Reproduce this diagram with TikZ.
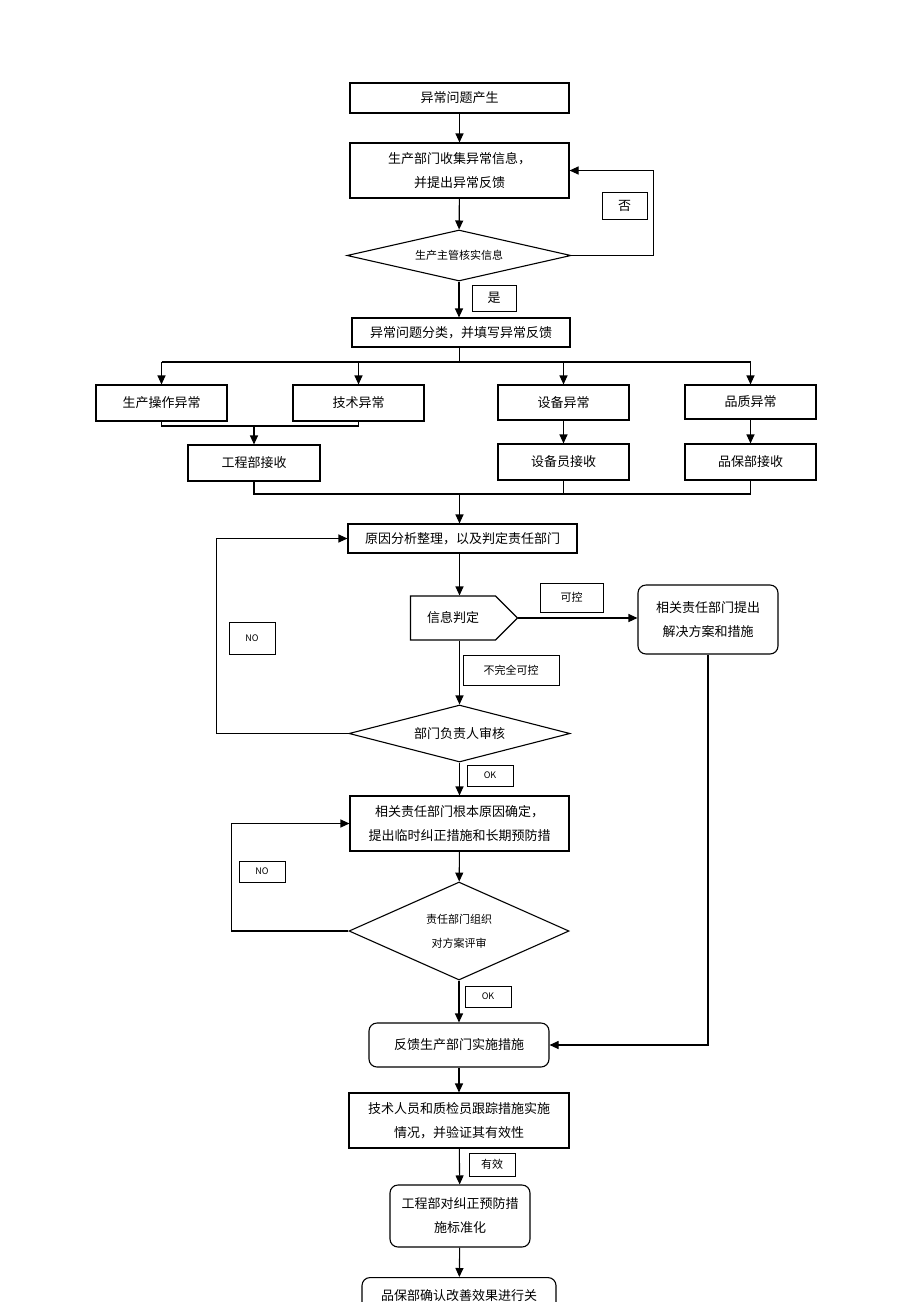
\documentclass[tikz,border=0pt]{standalone}
\usepackage{fontspec}
\setmainfont{Noto Sans CJK SC}
\usetikzlibrary{arrows.meta}
\usetikzlibrary{shapes.geometric}
\usetikzlibrary{shapes.symbols}

\begin{document}
\begin{tikzpicture}[x=1pt,y=-1pt,line width=1.1pt,
	box/.style={draw, rectangle, inner sep=2pt, align=center,
		font=\fontsize{13}{24}\selectfont},
	rbox/.style={box, rounded corners=8pt},
	decision/.style={draw, diamond, inner sep=0pt, align=center,
		font=\fontsize{11}{24}\selectfont},
	tag/.style={draw, line width=0.8pt, rectangle, inner sep=1pt,
		font=\fontsize{11}{13}\selectfont},
	arr/.style={-{Triangle[length=9pt,width=8pt]}}]
	
	\useasboundingbox (0,0) rectangle (920,1302);
	
	% main column
	\node[box, minimum width=219, minimum height=30] (start) at (459.5,98) {异常问题产生};
	\node[box, minimum width=219, minimum height=55] (collect) at (459.5,170.5) {生产部门收集异常信息，\\并提出异常反馈};
	\node[decision, aspect=4.4, minimum width=224, minimum height=51] (check) at (459,255.5) {生产主管核实信息};
	\node[box, minimum width=218, minimum height=29] (cls) at (461,332.5) {异常问题分类，并填写异常反馈};
	
	% the four kinds
	\node[box, minimum width=131, minimum height=36] (op) at (161.5,403) {生产操作异常};
	\node[box, minimum width=131, minimum height=36] (tech) at (358.5,403) {技术异常};
	\node[box, minimum width=131, minimum height=35] (eq) at (563.5,402.5) {设备异常};
	\node[box, minimum width=131, minimum height=34] (qa) at (750.5,402) {品质异常};
	\node[box, minimum width=132, minimum height=36] (eng) at (254,463) {工程部接收};
	\node[box, minimum width=131, minimum height=36] (eqr) at (563.5,462) {设备员接收};
	\node[box, minimum width=131, minimum height=36] (qar) at (750.5,462) {品保部接收};
	
	\node[box, minimum width=229, minimum height=29] (cause) at (462.5,538.5) {原因分析整理，以及判定责任部门};
	\node[draw, signal, signal to=east, signal pointer angle=90, inner sep=0pt,
		minimum width=107, minimum height=44, font=\fontsize{13}{24}\selectfont] (judge) at (453,618) {信息判定};
	\node[rbox, minimum width=140, minimum height=69] (ctrl) at (708,619.5) {相关责任部门提出\\解决方案和措施};
	\node[decision, aspect=3.9, minimum width=221, minimum height=57, font=\fontsize{13}{24}\selectfont] (review) at (459.5,733.5) {部门负责人审核};
	\node[box, minimum width=219, minimum height=55] (root) at (459.5,823.5) {相关责任部门根本原因确定，\\提出临时纠正措施和长期预防措};
	\node[decision, aspect=2.25, minimum width=220, minimum height=98] (plan) at (459,931) {责任部门组织\\对方案评审};
	\node[rbox, minimum width=180, minimum height=44] (impl) at (459,1045) {反馈生产部门实施措施};
	\node[box, minimum width=220, minimum height=55] (track) at (459,1120.5) {技术人员和质检员跟踪措施实施\\情况，并验证其有效性};
	\node[rbox, minimum width=140, minimum height=62] (std) at (460,1216) {工程部对纠正预防措\\施标准化};
	\node[rbox, anchor=north, minimum width=194, text height=21pt, text depth=40pt] (close) at (459,1277) {品保部确认改善效果进行关};
	
	% labels on the lines
	\node[tag, minimum width=45, minimum height=27, font=\fontsize{13}{15}\selectfont] (no) at (624.5,205.5) {否};
	\node[tag, minimum width=44, minimum height=26, font=\fontsize{13}{15}\selectfont] (yes) at (494,298) {是};
	\node[tag, minimum width=63, minimum height=29] (tctl) at (571.5,597.5) {可控};
	\node[tag, minimum width=96, minimum height=30] (tpart) at (511,670) {不完全可控};
	\node[tag, minimum width=46, minimum height=32, font=\fontsize{9}{11}\selectfont] (nob) at (252,638) {NO};
	\node[tag, minimum width=46, minimum height=21, font=\fontsize{9}{11}\selectfont] (oka) at (490,775.5) {OK};
	\node[tag, minimum width=46, minimum height=21, font=\fontsize{9}{11}\selectfont] (noc) at (262,871.5) {NO};
	\node[tag, minimum width=46, minimum height=21, font=\fontsize{9}{11}\selectfont] (okd) at (488,996.5) {OK};
	\node[tag, minimum width=46, minimum height=23] (eff) at (492,1164.5) {有效};
	
	% connectors
	\draw[arr] (start) -- (collect);
	\draw[arr] (collect) -- (check);
	\draw[arr] (check.east) -- ++(82,0) |- (collect.east);
	\draw[arr] (check) -- (cls.north -| check);
	
	\coordinate (split) at (459.5,362);
	\draw (cls.south -| split) -- (split);
	\draw (split -| op) -- (split -| qa);
	\foreach \n in {op,tech,eq,qa}
		\draw[arr] (split -| \n) -- (\n.north);
	
	\coordinate (pair) at (254,426);
	\draw (op.south) |- (pair) -| (tech.south);
	\draw[arr] (pair) -- (eng.north);
	\draw[arr] (eq) -- (eqr);
	\draw[arr] (qa) -- (qar);
	
	\coordinate (merge) at (459.5,494);
	\draw (eng.south) |- (merge);
	\draw (qar.south) |- (merge);
	\draw (eqr.south) -- (eqr.south |- merge);
	\draw[arr] (merge) -- (cause.north -| merge);
	
	\draw[arr] (cause.south -| merge) -- (judge.north -| merge);
	\draw[arr] (judge.east) -- (ctrl.west |- judge.east);
	\draw[arr] (judge.south -| merge) -- (review.north -| merge);
	\draw[arr] (review.west) -- ++(-132,0) |- (cause.west);
	\draw[arr] (review) -- (root);
	\draw[arr] (root) -- (plan);
	\draw[arr] (plan.west) -- ++(-117,0) |- (root.west);
	\draw[arr] (plan) -- (impl);
	\draw[arr] (ctrl.south) |- (impl.east);
	\draw[arr] (impl) -- (track);
	\draw[arr] (track) -- (std);
	\draw[arr] (std) -- (close);
\end{tikzpicture}
\end{document}
